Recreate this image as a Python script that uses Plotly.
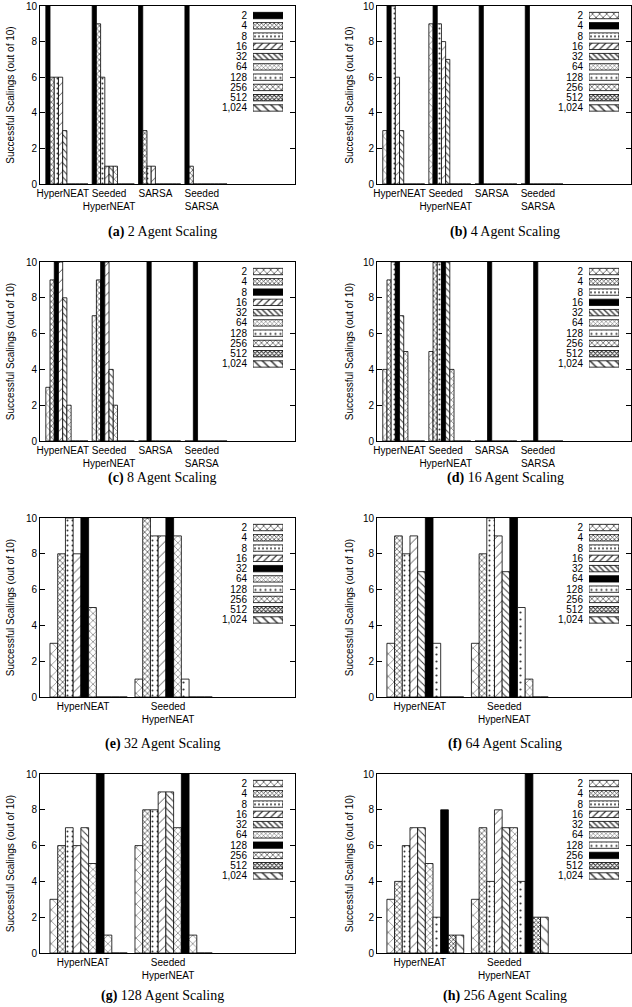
import plotly.graph_objects as go

# ---------------- data ----------------
SERIES = ["2", "4", "8", "16", "32", "64", "128", "256", "512", "1,024"]
GROUPS_4 = ["HyperNEAT", "Seeded<br>HyperNEAT", "SARSA", "Seeded<br>SARSA"]
GROUPS_2 = ["HyperNEAT", "Seeded<br>HyperNEAT"]
AGENTS = ["2", "4", "8", "16", "32", "64", "128", "256"]
LETTERS = ["a", "b", "c", "d", "e", "f", "g", "h"]

# rows = groups, columns = series (2 ... 1,024 agents)
scaling_2 = [
    [10, 6, 6, 6, 3, 0, 0, 0, 0, 0],
    [10, 9, 6, 1, 1, 1, 0, 0, 0, 0],
    [10, 3, 1, 1, 0, 0, 0, 0, 0, 0],
    [10, 1, 0, 0, 0, 0, 0, 0, 0, 0],
]
scaling_4 = [
    [3, 10, 10, 6, 3, 0, 0, 0, 0, 0],
    [9, 10, 9, 8, 7, 0, 0, 0, 0, 0],
    [0, 10, 0, 0, 0, 0, 0, 0, 0, 0],
    [0, 10, 0, 0, 0, 0, 0, 0, 0, 0],
]
scaling_8 = [
    [3, 9, 10, 10, 8, 2, 0, 0, 0, 0],
    [7, 9, 10, 10, 4, 2, 0, 0, 0, 0],
    [0, 0, 10, 0, 0, 0, 0, 0, 0, 0],
    [0, 0, 10, 0, 0, 0, 0, 0, 0, 0],
]
scaling_16 = [
    [4, 9, 10, 10, 7, 5, 0, 0, 0, 0],
    [5, 10, 10, 10, 10, 4, 0, 0, 0, 0],
    [0, 0, 0, 10, 0, 0, 0, 0, 0, 0],
    [0, 0, 0, 10, 0, 0, 0, 0, 0, 0],
]
scaling_32 = [
    [3, 8, 10, 8, 10, 5, 0, 0, 0, 0],
    [1, 10, 9, 9, 10, 9, 1, 0, 0, 0],
]
scaling_64 = [
    [3, 9, 8, 9, 7, 10, 3, 0, 0, 0],
    [3, 8, 10, 9, 7, 10, 5, 1, 0, 0],
]
scaling_128 = [
    [3, 6, 7, 6, 7, 5, 10, 1, 0, 0],
    [6, 8, 8, 9, 9, 7, 10, 1, 0, 0],
]
scaling_256 = [
    [3, 4, 6, 7, 7, 5, 2, 8, 1, 1],
    [3, 7, 4, 8, 7, 7, 4, 10, 2, 2],
]

PANEL_VALUES = [scaling_2, scaling_4, scaling_8, scaling_16,
                scaling_32, scaling_64, scaling_128, scaling_256]
PANEL_GROUPS = [GROUPS_4] * 4 + [GROUPS_2] * 4

# ---------------- styles ----------------
PAT_SHAPE = ["x", "x", ".", "/", "\\", "x", ".", "x", "x", "\\"]
PAT_SIZE = [8, 4, 5, 7, 5, 5, 7, 6, 3, 9]
PAT_SOLID = [0.12, 0.3, 0.12, 0.12, 0.2, 0.18, 0.08, 0.15, 0.45, 0.12]
LEG_SIZE = [5, 3, 4, 5, 4, 3, 5, 4, 3, 6]
LEG_SOLID = [0.25, 0.4, 0.2, 0.25, 0.35, 0.25, 0.15, 0.3, 0.55, 0.25]
FG = "#3a3a3a"

W, H = 632, 1007
X_LEFT = [(40, 295), (377, 630.5)]
Y_ROWS = [(6, 184), (262, 441), (518, 697), (774, 953)]
CAP_Y = [232, 478, 744, 996]
CAP_X = [162, 505]
SW_X = [(253, 283), (589, 619)]
TITLE_STANDOFF = [9, 7]

FONT = "Liberation Sans, Arial, Helvetica, sans-serif"
SERIF = "Liberation Serif, Times New Roman, serif"


def series_marker(s, own, size, solid):
    if s == own:
        return dict(color="black", line=dict(color="black", width=0.8))
    return dict(color="white", line=dict(color="black", width=0.8),
                pattern=dict(shape=PAT_SHAPE[s], size=size[s], solidity=solid[s],
                             fgcolor=FG, bgcolor="white", fillmode="replace"))


fig = go.Figure()
layout = dict(
    width=W, height=H,
    margin=dict(l=0, r=0, t=0, b=0),
    paper_bgcolor="white", plot_bgcolor="white",
    barmode="group", bargap=1 / 11, bargroupgap=0,
    showlegend=False,
    font=dict(family=FONT, size=10, color="black"),
)
annotations = []

for i in range(8):
    col, row = i % 2, i // 2
    vals = PANEL_VALUES[i]
    groups = PANEL_GROUPS[i]
    own = SERIES.index(AGENTS[i])
    ax, lax = i + 1, i + 9
    xs = list(range(len(groups)))

    for s, name in enumerate(SERIES):
        y = [r[s] for r in vals]
        fig.add_trace(go.Bar(x=xs, y=y, name=name,
                             marker=series_marker(s, own, PAT_SIZE, PAT_SOLID),
                             xaxis=f"x{ax}", yaxis=f"y{ax}", hoverinfo="skip"))

    # legend key: one swatch bar per series, all in one offset group
    for s, name in enumerate(SERIES):
        fig.add_trace(go.Bar(
            y=[name], x=[1], orientation="h", width=0.62, offsetgroup="key",
            marker=series_marker(s, own, LEG_SIZE, LEG_SOLID),
            xaxis=f"x{lax}", yaxis=f"y{lax}", hoverinfo="skip"))

    l, r = X_LEFT[col]
    t, b = Y_ROWS[row]
    xd = [l / W, r / W]
    yd = [1 - b / H, 1 - t / H]
    if len(groups) == 4:
        xr = [-0.58, 4.92]
        off = 0.09
    else:
        xr = [-0.572, 2.428]
        off = 0.065

    layout[f"xaxis{ax}"] = dict(
        domain=xd, anchor=f"y{ax}", range=xr, type="linear",
        tickmode="array", tickvals=[g - off for g in xs], ticktext=groups,
        tickangle=0,
        ticks="", showline=True, linecolor="black", linewidth=1, mirror=True,
        showgrid=False, zeroline=False, automargin=False,
        tickfont=dict(size=10, family=FONT),
    )
    layout[f"yaxis{ax}"] = dict(
        domain=yd, anchor=f"x{ax}", range=[0, 10],
        tickmode="array", tickvals=[0, 2, 4, 6, 8, 10],
        ticks="inside", ticklen=5, tickcolor="black", tickwidth=1,
        showline=True, linecolor="black", linewidth=1, mirror="ticks",
        showgrid=False, zeroline=False, automargin=False,
        tickfont=dict(size=10, family=FONT),
        title=dict(text="Successful Scalings (out of 10)",
                   font=dict(size=10, family=FONT), standoff=TITLE_STANDOFF[col]),
    )

    sl, sr = SW_X[col]
    layout[f"xaxis{lax}"] = dict(
        domain=[sl / W, sr / W], anchor=f"y{lax}", range=[0, 1],
        visible=False, fixedrange=True,
    )
    layout[f"yaxis{lax}"] = dict(
        domain=[1 - (t + 107.1) / H, 1 - (t + 4.4) / H], anchor=f"x{lax}",
        type="category", categoryorder="array", categoryarray=SERIES,
        tickmode="array", tickvals=SERIES, ticktext=SERIES,
        range=[9.5, -0.5], showline=False, showgrid=False, zeroline=False,
        ticks="", ticklabelstandoff=5, automargin=False,
        tickfont=dict(size=10, family=FONT),
    )

    annotations.append(dict(
        text=f"<b>({LETTERS[i]})</b> {AGENTS[i]} Agent Scaling",
        xref="paper", yref="paper", x=CAP_X[col] / W, y=1 - CAP_Y[row] / H,
        xanchor="center", yanchor="middle", showarrow=False,
        font=dict(family=SERIF, size=14, color="black"),
    ))

layout["annotations"] = annotations
fig.update_layout(**layout)
fig.write_html(
    "out.html",
    config={"displayModeBar": False},
    post_script="document.body.style.margin='0';document.body.style.padding='0';",
)
